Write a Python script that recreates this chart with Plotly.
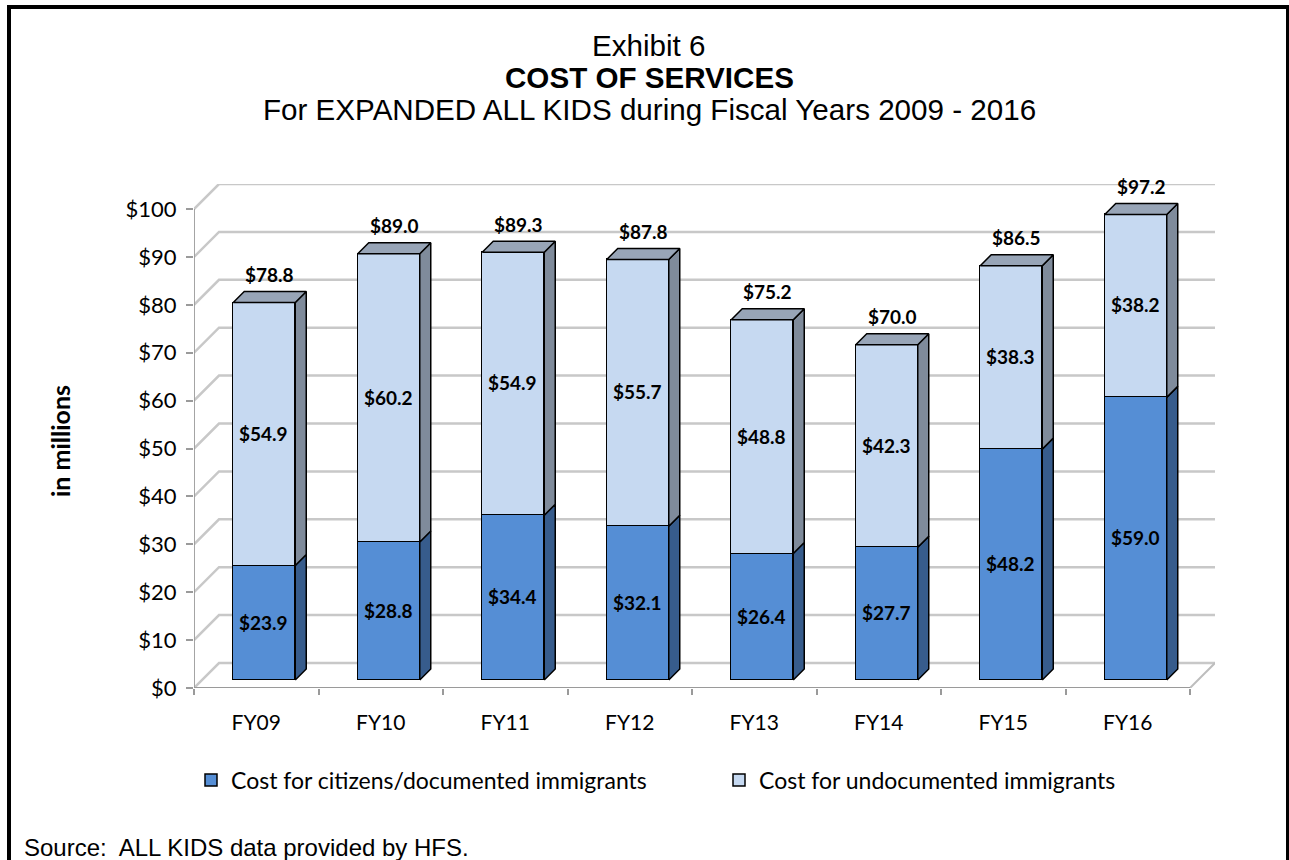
import plotly.graph_objects as go

# ---------------- data ----------------
categories = ["FY09", "FY10", "FY11", "FY12", "FY13", "FY14", "FY15", "FY16"]
citizens = [23.9, 28.8, 34.4, 32.1, 26.4, 27.7, 48.2, 59.0]
undocumented = [54.9, 60.2, 54.9, 55.7, 48.8, 42.3, 38.3, 38.2]
totals = [78.8, 89.0, 89.3, 87.8, 75.2, 70.0, 86.5, 97.2]
y_ticks = [0, 10, 20, 30, 40, 50, 60, 70, 80, 90, 100]
series_names = ["Cost for citizens/documented immigrants", "Cost for undocumented immigrants"]

# ---------------- geometry (pixels) ----------------
W, H = 1289, 860
PL, PR, PT, PB = 194, 1215, 184, 688          # plot box in pixels
PX_X = 124.5                                    # px per category
WALL = 25                                       # depth of back wall (px)
Y_TOP = 100 + WALL / 4.79
PX_Y = (PB - PT) / Y_TOP
X_MIN, X_MAX = -0.5, 7.5 + WALL / PX_X
PX_X = (PR - PL) / (X_MAX - X_MIN)
BAR_INSET = 8                                   # bar front plane depth (px)
BAR_DEPTH = 11                                  # bar depth (px)
BAR_W = 62 / PX_X

wdx, wdy = WALL / PX_X, WALL / PX_Y
bdx, bdy = BAR_DEPTH / PX_X, BAR_DEPTH / PX_Y
ins_x, ins_y = BAR_INSET / PX_X, BAR_INSET / PX_Y

def px2paper_x(px):
    return (px - PL) / (PR - PL)

def px2paper_y(py):
    return (PB - py) / (PB - PT)

FONT = "Lato"
ARIAL = "Liberation Sans, Arial"

c_front = ["#558ED5", "#C6D9F1"]
c_side = ["#375C8C", "#7F8B9B"]
c_top = "#98A5B7"

fig = go.Figure()

# ---------------- walls / grid (main axes) ----------------
gx, gy = [], []
for v in y_ticks:
    gx += [X_MIN, X_MIN + wdx, X_MAX, None]
    gy += [v, v + wdy, v + wdy, None]
fig.add_trace(go.Scatter(x=gx, y=gy, mode="lines", line=dict(color="#C8C8C8", width=2.5),
                         hoverinfo="skip", showlegend=False))
# floor right edge
fig.add_trace(go.Scatter(x=[7.5, X_MAX], y=[0, wdy], mode="lines",
                         line=dict(color="#BDBDBD", width=2), hoverinfo="skip", showlegend=False))
# front axis lines
fig.add_trace(go.Scatter(x=[X_MIN, X_MIN, None, X_MIN, 7.5], y=[y_ticks[-1], 0, None, 0, 0],
                         mode="lines", line=dict(color="#9A9A9A", width=1.8),
                         hoverinfo="skip", showlegend=False))

# ---------------- bars (overlay axis shifted by bar inset) ----------------
xc = [i + ins_x for i in range(len(categories))]
for k, vals in enumerate([citizens, undocumented]):
    fig.add_trace(go.Bar(
        x=xc, y=vals, width=BAR_W, name=series_names[k], yaxis="y2",
        marker=dict(color=c_front[k], line=dict(color="black", width=1.5)),
        texttemplate="$%{y:.1f}", textposition="inside", insidetextanchor="middle",
        textangle=0, constraintext="none",
        textfont=dict(family=FONT, size=19, color="black", weight="bold"),
        hoverinfo="skip",
    ))

# side faces
bases = [[0] * len(citizens), citizens]
for k, vals in enumerate([citizens, undocumented]):
    sx, sy = [], []
    for i, v in enumerate(vals):
        y0 = bases[k][i]
        y1 = y0 + v
        xr = xc[i] + BAR_W / 2
        sx += [xr, xr + bdx, xr + bdx, xr, xr, None]
        sy += [y0, y0 + bdy, y1 + bdy, y1, y0, None]
    fig.add_trace(go.Scatter(x=sx, y=sy, yaxis="y2", mode="lines", fill="toself",
                             fillcolor=c_side[k], line=dict(color="black", width=1.5),
                             hoverinfo="skip", showlegend=False))
# top faces
tx, ty = [], []
for i, t in enumerate(totals):
    xl, xr = xc[i] - BAR_W / 2, xc[i] + BAR_W / 2
    tx += [xl, xl + bdx, xr + bdx, xr, xl, None]
    ty += [t, t + bdy, t + bdy, t, t, None]
fig.add_trace(go.Scatter(x=tx, y=ty, yaxis="y2", mode="lines", fill="toself",
                         fillcolor=c_top, line=dict(color="black", width=1.5),
                         hoverinfo="skip", showlegend=False))

annotations = []
for i, t in enumerate(totals):
    annotations.append(dict(x=xc[i] + bdx / 2, y=t, xref="x", yref="y2", text=f"${t:.1f}",
                            showarrow=False, yanchor="middle", yshift=BAR_DEPTH + 17,
                            font=dict(family=FONT, size=19, color="black", weight="bold")))

# titles
title_lines = [("Exhibit 6", 45, "normal"), ("COST OF SERVICES", 77, "bold"),
               ("For EXPANDED ALL KIDS during Fiscal Years 2009 - 2016", 109, "normal")]
for txt, py, wt in title_lines:
    annotations.append(dict(x=px2paper_x(649), y=px2paper_y(py), xref="paper", yref="paper",
                            text=txt, showarrow=False, xanchor="center", yanchor="middle",
                            font=dict(family=ARIAL, size=29.6, color="black", weight=wt)))
annotations.append(dict(x=px2paper_x(60), y=px2paper_y(441), xref="paper", yref="paper",
                        text="in millions", textangle=-90, showarrow=False,
                        xanchor="center", yanchor="middle",
                        font=dict(family=FONT, size=25, color="black", weight="bold")))
annotations.append(dict(x=px2paper_x(22), y=px2paper_y(847), xref="paper", yref="paper",
                        text="Source:  ALL KIDS data provided by HFS.", showarrow=False,
                        xanchor="left", yanchor="middle",
                        font=dict(family=ARIAL, size=24, color="black")))

shapes = [dict(type="rect", xref="paper", yref="paper",
               x0=px2paper_x(9), x1=px2paper_x(1288), y0=px2paper_y(7), y1=px2paper_y(900),
               line=dict(color="black", width=4), fillcolor="rgba(0,0,0,0)", layer="above")]

fig.update_layout(
    width=W, height=H,
    margin=dict(l=PL, r=W - PR, t=PT, b=H - PB),
    paper_bgcolor="white", plot_bgcolor="white",
    barmode="stack", bargap=0,
    showlegend=True,
    legend=dict(orientation="h", x=px2paper_x(191), y=px2paper_y(780), xanchor="left",
                yanchor="middle", font=dict(family=FONT, size=23, color="black"),
                entrywidth=483, traceorder="normal", bgcolor="rgba(0,0,0,0)"),
    xaxis=dict(range=[X_MIN, X_MAX], tickvals=list(range(len(categories))), ticktext=categories,
               ticks="", showgrid=False, zeroline=False, showline=False,
               tickfont=dict(family=FONT, size=21, color="black"), ticklabelstandoff=20,
               minor=dict(tickvals=[i - 0.5 for i in range(len(categories) + 1)], ticks="outside",
                          ticklen=6, tickcolor="#9A9A9A", tickwidth=1.5, showgrid=False)),
    yaxis=dict(range=[0, Y_TOP], tickvals=y_ticks, ticktext=[f"${v}" for v in y_ticks],
               ticks="outside", ticklen=7, tickcolor="#9A9A9A", tickwidth=1.5,
               showgrid=False, zeroline=False, showline=False,
               tickfont=dict(family=FONT, size=22, color="black"), ticklabelstandoff=5),
    yaxis2=dict(range=[-ins_y, Y_TOP - ins_y], overlaying="y", visible=False),
    annotations=annotations, shapes=shapes,
)

fig.write_html("out.html")
